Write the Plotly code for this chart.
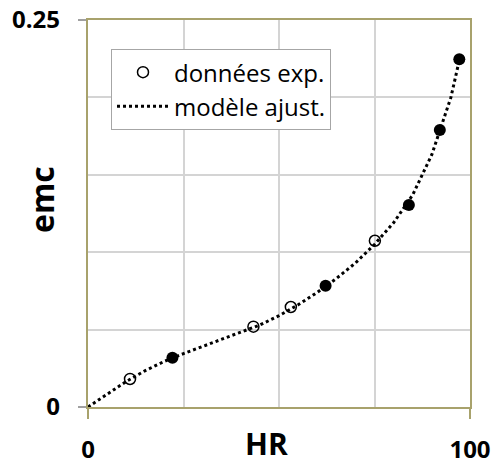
import plotly.graph_objects as go

# Experimental data (open circles -> in legend, filled circles -> same series, other set)
hr_open = [11.0, 43.3, 53.1, 75.1]
emc_open = [0.0181, 0.0519, 0.0646, 0.1074]
hr_filled = [22.1, 62.2, 84.0, 92.1, 97.2]
emc_filled = [0.0318, 0.0784, 0.1305, 0.179, 0.2246]

# Fitted model curve
hr_model = [0, 5, 10, 15, 20, 25, 30, 35, 40, 45, 50, 55, 60, 65, 70, 75, 80, 85, 90, 95, 97.2]
emc_model = [0.0, 0.0085, 0.0165, 0.0235, 0.0295, 0.0345, 0.039, 0.0435, 0.048, 0.053, 0.059,
             0.066, 0.074, 0.083, 0.093, 0.105, 0.119, 0.137, 0.163, 0.200, 0.224]

x_ticks = [0, 100]
x_tick_text = ["0", "100"]
y_ticks = [0, 0.25]
y_tick_text = ["0", "0.25"]

FONT = "Open Sans"
OLIVE = "#a8a26c"
GRID = "#d4d4d4"

W, H = 494, 467
ML, MR, MT, MB = 60, 24, 20, 60
PLOT_LEFT = 88
x_dom0 = (PLOT_LEFT - ML) / (W - ML - MR)

fig = go.Figure()
fig.add_trace(go.Scatter(
    x=hr_open, y=emc_open, mode="markers", name="données exp.",
    marker=dict(symbol="circle-open", size=11, color="black", line=dict(width=1.5, color="black")),
))
fig.add_trace(go.Scatter(
    x=hr_filled, y=emc_filled, mode="markers", showlegend=False,
    marker=dict(symbol="circle", size=12, color="black"),
))
fig.add_trace(go.Scatter(
    x=hr_model, y=emc_model, mode="lines", name="modèle ajust.",
    line=dict(color="black", width=3, dash="dot"),
))
# carrier trace for the label axis (invisible)
fig.add_trace(go.Scatter(
    x=hr_model, y=emc_model, mode="lines", yaxis="y2", showlegend=False,
    line=dict(color="rgba(0,0,0,0)", width=0), hoverinfo="skip",
))

fig.update_layout(
    width=W, height=H,
    margin=dict(l=ML, r=MR, t=MT, b=MB),
    paper_bgcolor="white", plot_bgcolor="white",
    font=dict(family=FONT, color="black"),
    showlegend=True,
    legend=dict(
        x=(111 - ML) / (W - ML - MR), y=0.925, xanchor="left", yanchor="top",
        bgcolor="white", bordercolor="#a6a6a6", borderwidth=1,
        font=dict(size=24, family=FONT, color="black"),
        itemwidth=52,
    ),
    xaxis=dict(
        domain=[x_dom0, 1],
        range=[0, 100], tickvals=x_ticks, ticktext=x_tick_text,
        ticks="outside", ticklen=10, tickcolor=OLIVE, tickwidth=1.5,
        ticklabelstandoff=10, automargin=False,
        tickfont=dict(size=24, family=FONT, color="black", weight="bold"),
        showgrid=False, zeroline=False,
        showline=True, linecolor=OLIVE, linewidth=2, mirror=True,
        minor=dict(tick0=0, dtick=25, showgrid=True, gridcolor=GRID, gridwidth=1.5, ticks=""),
        fixedrange=True,
    ),
    yaxis=dict(
        range=[0, 0.25], tickvals=y_ticks, showticklabels=False,
        ticks="outside", ticklen=8, tickcolor="#a0a0a0", tickwidth=1.5,
        automargin=False,
        showgrid=False, zeroline=False,
        showline=True, linecolor=OLIVE, linewidth=2, mirror=True,
        minor=dict(tick0=0, dtick=0.05, showgrid=True, gridcolor=GRID, gridwidth=1.5, ticks=""),
        fixedrange=True,
    ),
    yaxis2=dict(
        overlaying="y", anchor="free", position=0, side="left",
        range=[0, 0.25], tickvals=y_ticks, ticktext=y_tick_text,
        ticks="", showline=False, showgrid=False, zeroline=False,
        automargin=False,
        tickfont=dict(size=24, family=FONT, color="black", weight="bold"),
        fixedrange=True,
    ),
    annotations=[
        dict(text="<b>HR</b>", xref="paper", yref="paper",
             x=(266 - ML) / (W - ML - MR), y=(407 - 466) / 387,
             xanchor="center", yanchor="bottom", showarrow=False,
             font=dict(size=30, family=FONT, color="black")),
        dict(text="<b>emc</b>", xref="paper", yref="paper",
             x=(42 - ML) / (W - ML - MR), y=0.535,
             xanchor="center", yanchor="middle", showarrow=False, textangle=-90,
             font=dict(size=32, family=FONT, color="black")),
    ],
)

fig.write_html(
    "out.html",
    config={"displayModeBar": False},
    post_script="document.body.style.margin='0';document.body.style.padding='0';",
)
